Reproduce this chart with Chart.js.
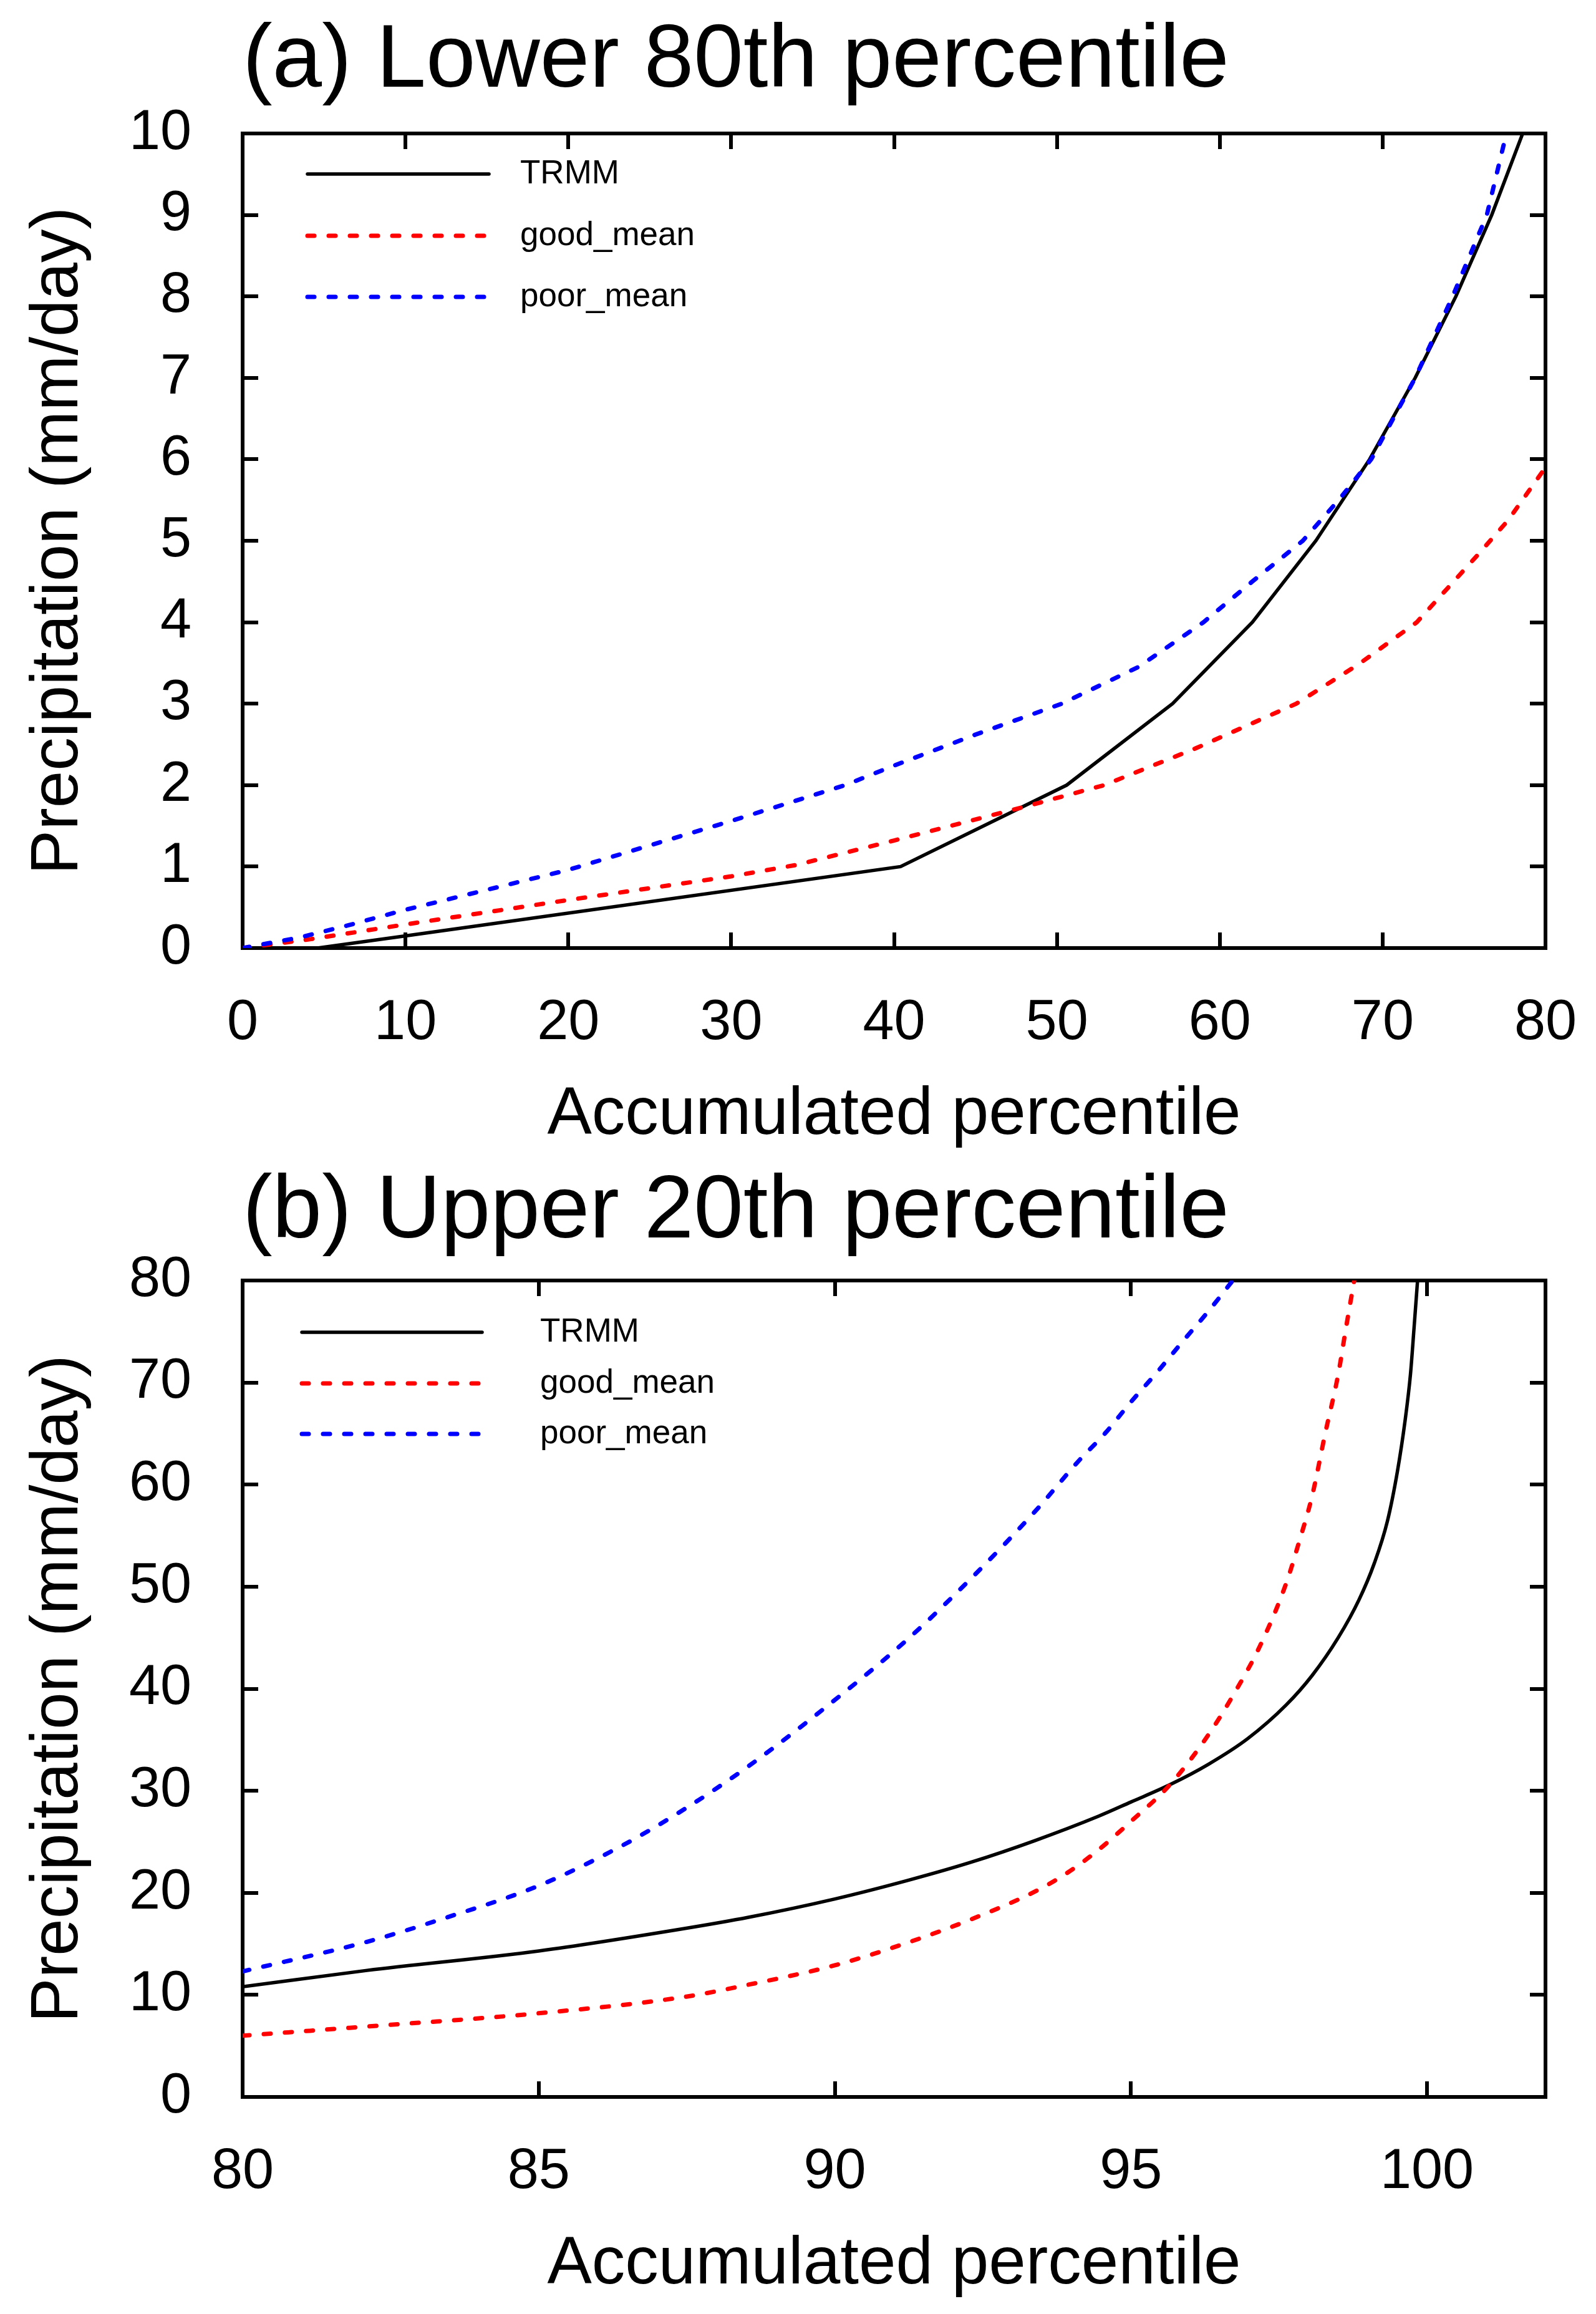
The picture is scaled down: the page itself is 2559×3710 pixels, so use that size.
<!DOCTYPE html>
<html>
<head>
<meta charset="utf-8">
<title>Accumulated percentile of precipitation</title>
<script src="https://cdn.jsdelivr.net/npm/chart.js@4.4.1/dist/chart.umd.min.js"></script>
<style>
  html, body { margin: 0; padding: 0; background: #fff; }
  #wrap { width: 2559px; height: 3710px; }
  canvas { display: block; }
</style>
</head>
<body>
<div id="wrap">
  <canvas id="chart-lower" width="2559" height="1855"></canvas>
  <canvas id="chart-upper" width="2559" height="1855"></canvas>
</div>
<script>
// --- Data ---
const seriesNames = ['TRMM', 'good_mean', 'poor_mean'];
const seriesColors = ['#000000', '#ff0000', '#0000ff'];

// (a) lower 80th percentile: accumulated percentile vs precipitation
const lowTrmmPct  = [4.6, 10, 40.4, 50.6, 57.1, 62.0, 65.9, 69.2, 72.0, 74.5, 76.7, 78.6];
const lowTrmmRain = [0, 0.15, 1.0, 2.0, 3.0, 4.0, 5.0, 6.0, 7.0, 8.0, 9.0, 10.0];
const lowGoodPct  = [0, 4.2, 10, 20, 30, 34, 40, 48.3, 52.9, 58.5, 64.7, 68.5, 72.1, 75.9, 77.7, 80];
const lowGoodRain = [0, 0.11, 0.29, 0.59, 0.88, 1.02, 1.32, 1.75, 2.0, 2.45, 3.0, 3.48, 4.0, 4.84, 5.25, 5.9];
const lowPoorPct  = [0, 3.5, 6.5, 10, 20, 30, 37, 40, 45, 50.3, 55, 59, 62, 65.1, 67.3, 69.3, 72.0, 74.3, 76.4, 77.6];
const lowPoorRain = [0, 0.13, 0.28, 0.47, 0.96, 1.56, 2.0, 2.24, 2.62, 3.0, 3.45, 4.0, 4.5, 5.0, 5.5, 6.0, 7.0, 8.0, 9.0, 10.0];

// (b) upper 20th percentile
const upTrmmPct  = [80, 82.1, 85, 87.46, 88.54, 90, 91.22, 92.3, 93.37, 94.45, 95.0, 95.66, 96.31, 96.97, 97.62, 98.06, 98.5, 98.85, 99.11, 99.33, 99.5, 99.63, 99.72, 99.78, 99.84];
const upTrmmRain = [10.8, 12.4, 14.3, 16.5, 17.6, 19.4, 21.2, 23.0, 25.1, 27.5, 28.9, 30.6, 32.6, 35.1, 38.4, 41.3, 45.0, 48.7, 52.3, 56.4, 61.3, 66.3, 70.8, 75.3, 80];
const upGoodPct  = [80, 82.1, 85, 87.46, 88.54, 90, 91.22, 92.3, 93.37, 93.91, 94.45, 95.0, 95.66, 96.31, 96.75, 97.18, 97.62, 97.84, 98.06, 98.28, 98.5, 98.63, 98.77];
const upGoodRain = [6.0, 6.9, 8.2, 9.8, 11.0, 12.9, 15.1, 17.4, 20.1, 21.9, 24.2, 27.0, 30.6, 35.5, 39.6, 44.2, 50.3, 54.4, 58.9, 65.0, 70.8, 75.3, 80];
const upPoorPct  = [80, 82.1, 83.4, 85, 86.4, 87.46, 88.54, 90, 91.22, 92.3, 93.37, 94.13, 94.56, 95.0, 95.44, 95.87, 96.31, 96.72];
const upPoorRain = [12.3, 15.2, 17.5, 20.7, 24.6, 28.2, 32.4, 38.9, 44.8, 50.8, 57.3, 62.4, 65.0, 68.1, 71.0, 74.0, 77.0, 80];

const FONT = '"Liberation Sans", Arial, Helvetica, sans-serif';
const toPoints = (xs, ys) => xs.map((x, i) => ({x, y: ys[i]}));

// legend drawn inside the plot, line sample + label
const lineLegend = {
    id: 'lineLegend',
    afterDatasetsDraw(chart, args, opts) {
        const {ctx, chartArea} = chart;
        ctx.save();
        chart.data.datasets.forEach((ds, i) => {
            const y = chartArea.top + opts.rows[i];
            ctx.beginPath();
            ctx.setLineDash(ds.borderDash || []);
            ctx.lineWidth = ds.borderWidth;
            ctx.strokeStyle = ds.borderColor;
            ctx.lineCap = 'round';
            ctx.moveTo(chartArea.left + opts.x0, y);
            ctx.lineTo(chartArea.left + opts.x1, y);
            ctx.stroke();
            ctx.setLineDash([]);
            ctx.fillStyle = '#000';
            ctx.font = opts.fontSize + 'px ' + FONT;
            ctx.textBaseline = 'middle';
            ctx.textAlign = 'left';
            ctx.fillText(ds.label, chartArea.left + opts.textX, y);
        });
        ctx.restore();
    }
};

const makeDatasets = (sets, smooth) => sets.map((pts, i) => ({
    label: seriesNames[i],
    data: pts,
    borderColor: seriesColors[i],
    backgroundColor: seriesColors[i],
    borderWidth: i === 0 ? 5.5 : 7,
    borderDash: i === 0 ? [] : [11, 23],
    borderCapStyle: 'round',
    pointRadius: 0,
    tension: 0,
    cubicInterpolationMode: smooth ? 'monotone' : 'default',
    order: 3 - i,
    xAxisID: 'x',
    yAxisID: 'y'
}));

function buildOptions(p) {
    const frame = {display: true, color: '#000', width: 6};
    const grid = {drawOnChartArea: false, drawTicks: true, tickLength: -25, color: '#000', lineWidth: 6, tickWidth: 6};
    return {
        responsive: false,
        animation: false,
        devicePixelRatio: 1,
        layout: {padding: {left: 0, right: 81, top: 0, bottom: 0}},
        plugins: {
            legend: {display: false},
            tooltip: {enabled: false},
            title: {
                display: true, text: p.title, align: 'start', fullSize: false, color: '#000',
                font: {family: FONT, size: 143, weight: 'normal', lineHeight: 1},
                padding: p.titlePad
            },
            lineLegend: p.legend
        },
        scales: {
            x: {
                type: 'linear', position: 'bottom', min: p.xMin, max: p.xMax,
                border: frame, grid: grid,
                // tall line box puts the labels below the axis without extra padding
                ticks: {stepSize: p.xStep, includeBounds: false, color: '#000', font: {family: FONT, size: 90, lineHeight: 3.255}, padding: 0, maxRotation: 0, autoSkip: false},
                title: {display: true, text: 'Accumulated percentile', color: '#000', font: {family: FONT, size: 107}, padding: {top: 0, bottom: p.xTitlePad}},
                afterFit: (s) => { s.height = p.xAxisHeight; }
            },
            x2: {
                type: 'linear', position: 'top', min: p.xMin, max: p.xMax,
                border: frame, grid: grid,
                ticks: {stepSize: p.xStep, includeBounds: false, display: false},
                afterFit: (s) => { s.height = 0; }
            },
            y: {
                type: 'linear', position: 'left', min: 0, max: p.yMax,
                border: frame, grid: grid,
                ticks: {stepSize: p.yStep, includeBounds: false, color: '#000', font: {family: FONT, size: 90}, padding: 107, autoSkip: false},
                title: {display: true, text: 'Precipitation (mm/day)', color: '#000', font: {family: FONT, size: 107}, padding: {top: 30, bottom: 0}},
                afterFit: (s) => { s.width = 389; }
            },
            y2: {
                type: 'linear', position: 'right', min: 0, max: p.yMax,
                border: frame, grid: grid,
                ticks: {stepSize: p.yStep, includeBounds: false, display: false},
                afterFit: (s) => { s.width = 0; }
            }
        }
    };
}

// --- (a) Lower 80th percentile ---
new Chart(document.getElementById('chart-lower'), {
    type: 'line',
    data: {
        datasets: makeDatasets([
            toPoints(lowTrmmPct, lowTrmmRain),
            toPoints(lowGoodPct, lowGoodRain),
            toPoints(lowPoorPct, lowPoorRain)
        ], false)
    },
    options: buildOptions({
        title: '(a) Lower 80th percentile',
        titlePad: {top: 28, bottom: 43},
        xMin: 0, xMax: 80, xStep: 10,
        yMax: 10, yStep: 1,
        xAxisHeight: 335, xTitlePad: 2,
        legend: {x0: 104, x1: 395, textX: 445, rows: [65, 164, 262], fontSize: 53}
    }),
    plugins: [lineLegend]
});

// --- (b) Upper 20th percentile ---
new Chart(document.getElementById('chart-upper'), {
    type: 'line',
    data: {
        datasets: makeDatasets([
            toPoints(upTrmmPct, upTrmmRain),
            toPoints(upGoodPct, upGoodRain),
            toPoints(upPoorPct, upPoorRain)
        ], true)
    },
    options: buildOptions({
        title: '(b) Upper 20th percentile',
        titlePad: {top: 18, bottom: 37},
        xMin: 80, xMax: 102, xStep: 5,
        yMax: 80, yStep: 10,
        xAxisHeight: 348, xTitlePad: 14,
        legend: {x0: 95, x1: 384, textX: 477, rows: [83, 165, 246], fontSize: 53}
    }),
    plugins: [lineLegend]
});
</script>
</body>
</html>
